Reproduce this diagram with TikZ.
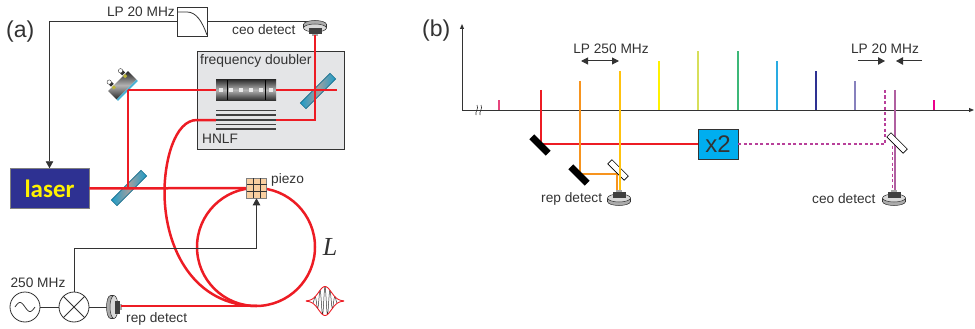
\documentclass[tikz,border=0pt]{standalone}
\usepackage{fontspec}
\setmainfont{Liberation Sans}
\newfontfamily\laserfont{Carlito}
\newfontfamily\lengthfont{Liberation Serif}
\usetikzlibrary{arrows.meta}

\definecolor{inkgray}{HTML}{333333}
\definecolor{beamred}{HTML}{ED1C24}
\definecolor{boxgray}{HTML}{E4E5E7}
\definecolor{laserblue}{HTML}{2E3192}
\definecolor{laseryellow}{HTML}{FFF200}
\definecolor{bsblue}{HTML}{1C9CC8}
\definecolor{piezoorange}{HTML}{F9CFA0}
\definecolor{doublerblue}{HTML}{00AEEF}
\definecolor{beamorange}{HTML}{F7941E}
\definecolor{beamgold}{HTML}{FFC20E}
\definecolor{beampurple}{HTML}{B05FA0}
\definecolor{dashpurple}{HTML}{B8409A}
\definecolor{combpink}{HTML}{E6457D}
\definecolor{combpale}{HTML}{D7DF5A}
\definecolor{combgreen}{HTML}{3CB878}
\definecolor{combcyan}{HTML}{29ABE2}
\definecolor{combviolet}{HTML}{8781BD}
\definecolor{combmagenta}{HTML}{EC008C}

\tikzset{
	label/.style={font=\fontsize{13.7}{16}\selectfont, text=inkgray, inner sep=0pt},
	panel/.style={font=\fontsize{23}{26}\selectfont, text=inkgray, inner sep=0pt},
	wire/.style={draw=inkgray, line width=0.8pt},
	sharp/.style={-{Triangle[length=7pt,width=7.5pt]}},
	beam/.style={draw=beamred, line width=2.5pt},
	thinbeam/.style={line width=1.3pt},
	bs/.style={draw=bsblue!70!black, line width=0.6pt, left color=bsblue, right color=bsblue, middle color=gray!75, minimum width=42pt, minimum height=8pt, inner sep=0pt},
	blackmirror/.style={fill=black, minimum width=23pt, minimum height=7pt, inner sep=0pt},
	whitemirror/.style={draw=black, fill=white, line width=0.7pt, minimum width=23pt, minimum height=6pt, inner sep=0pt},
	mixing/.style={circle, draw=inkgray, line width=0.8pt, fill=white, minimum size=30pt, inner sep=0pt},
	detect/.pic={
		\draw[inkgray, line width=0.5pt, fill=gray!65] (0,3.5) ellipse [x radius=11.5, y radius=4];
		\fill[gray!65] (-11.5,0) rectangle (11.5,3.5);
		\draw[inkgray, line width=0.5pt] (-11.5,0) -- (-11.5,3.5) (11.5,0) -- (11.5,3.5);
		\draw[inkgray, line width=0.5pt, fill=gray!30] (0,0) ellipse [x radius=11.5, y radius=4];
		\fill[black!75] (-6.5,-0.5) -- (-6.5,-6) -- (6.5,-6) -- (6.5,-0.5) -- cycle;
		\fill[gray!70] (-3,-6) rectangle (3,-8);
	},
}

\begin{document}
\begin{tikzpicture}[x=1pt, y=-1pt]
\useasboundingbox (0,0) rectangle (975,329);

% Aufbau (a)
\node[panel, anchor=west] (parta) at (6,32) {(a)};
\node[draw=inkgray, line width=0.8pt, fill=boxgray, minimum width=147pt, minimum height=98pt, inner sep=0pt] (doubler) at (270.5,100) {};
\node[label, anchor=west, font=\fontsize{13.9}{16}\selectfont] (doublertext) at (200,61) {frequency doubler};
\node[label, anchor=west] (hnlftext) at (202,139) {HNLF};

\node[minimum width=60pt, minimum height=20pt, inner sep=0pt, top color=black!80, bottom color=black!80, middle color=black!30] (crystal) at (246,90) {};
\foreach \x in {227, 265}
	\draw[black, line width=0.8pt] (\x,80) -- (\x,100);
\foreach \x in {221, 231, ..., 271}
	\fill[white!92!black] (\x-2,88) rectangle (\x+2,92);

\node[minimum width=60pt, minimum height=21pt, inner sep=0pt] (hnlf) at (246,120) {};
\foreach \y in {110.5, 115, 120, 124.5, 129}
	\draw[black!75, line width=1.6pt] (216,\y) -- (276,\y);

\node[bs, rotate=45] (bsdoubler) at (318,91) {};
\node[bs, rotate=45] (bslaser) at (129,188) {};

\node[fill=laserblue, draw=gray, line width=0.5pt, minimum width=79pt, minimum height=40pt, inner sep=0pt, text=laseryellow, font=\laserfont\bfseries\fontsize{25}{28}\selectfont] (laser) at (49.5,188.5) {laser};

% Spiegel
\begin{scope}[shift={(123,86)}, rotate=45]
	\fill[inkgray] (-9,-8) rectangle (-5,-11);
	\fill[inkgray] (7,-8) rectangle (11,-11);
	\draw[inkgray, fill=white] (-7,-12.5) circle [radius=2.2];
	\draw[inkgray, fill=white] (9,-12.5) circle [radius=2.2];
	\shade[top color=black!85, bottom color=black!85, middle color=black!30] (-14,-7) rectangle (14,5);
	\fill[bsblue!80] (-14,5) rectangle (14,7);
	\fill[yellow!70!black] (-9,-7) rectangle (-6,-4);
	\fill[yellow!70!black] (7,-7) rectangle (10,-4);
\end{scope}
\coordinate (mirrortop) at (128,90);

% Faserschleife
\coordinate (bigstart) at (197,120);
\coordinate (bigleft) at (164.5,192);
\coordinate (fiberjoin) at (257,306);
\draw[beam] (256,247) circle [radius=59];
\draw[beam] (hnlf.west) -- (bigstart) .. controls (175,120) and (164.5,160) .. (bigleft) .. controls (164.5,250) and (195,306) .. (fiberjoin);

% Elektronik
\node[draw=inkgray, line width=0.8pt, fill=white, minimum width=30pt, minimum height=29pt, inner sep=0pt] (lowpass) at (192,21.5) {};
\draw[inkgray, line width=0.8pt] (178,12) -- (187,12) .. controls (196,12) and (202,21) .. (207,35);
\node[label, anchor=east] (lowpasstext) at (175,12) {LP 20 MHz};
\node[label, anchor=west] (ceotext) at (232,30) {ceo detect};
\coordinate (ceowire) at (310,21.5);
\draw[wire] (ceowire) -- (lowpass.east);
\draw[wire, sharp] (lowpass.west) -| (laser.north);
\pic[rotate=180] at (315,28) {detect};
\coordinate (ceotip) at (315,35);

\node[mixing] (osc) at (25,307) {};
\node[mixing] (mixer) at (74,307) {};
\draw[inkgray, line width=0.8pt] (mixer.45) -- (mixer.225) (mixer.135) -- (mixer.315);
\draw[inkgray, line width=0.8pt, domain=-10:10, samples=40, smooth, shift={(osc.center)}] plot ({\x},{4.5*sin(18*\x)});
\node[label] (osctext) at (38,283) {250 MHz};
\draw[wire] (osc) -- (mixer);
\coordinate (repwire) at (108,307);
\draw[wire] (mixer) -- (repwire);
\pic[rotate=-90] at (114,307) {detect};
\coordinate (reptip) at (121,306);
\node[label, anchor=west] (reptext) at (126,319) {rep detect};

\node[draw=gray, line width=0.6pt, fill=piezoorange, minimum size=20pt, inner sep=0pt] (piezo) at (256.5,188) {};
\foreach \d in {-3.4, 3.4} {
	\draw[inkgray, line width=0.5pt] (256.5+\d,178) -- (256.5+\d,198);
	\draw[inkgray, line width=0.5pt] (246.5,188+\d) -- (266.5,188+\d);
}
\node[label, anchor=west] (piezotext) at (271,180) {piezo};
\coordinate (piezobend) at (256.5,248);
\draw[wire, sharp] (mixer.north) |- (piezobend) -- (piezo.south);

% Strahlen
\draw[beam] (laser.east) -- (piezo.west);
\draw[beam] (reptip) -- (fiberjoin);
\draw[beam] (mirrortop) -- (crystal.west);
\draw[beam] (mirrortop) -- (128,188);
\draw[beam] (crystal.east) -- (337,90);
\draw[beam] (hnlf.east) -| (ceotip);

\node[font=\lengthfont\itshape\fontsize{26}{28}\selectfont, text=inkgray, inner sep=0pt] (looplength) at (330,247) {L};

% Puls
\begin{scope}[shift={(325,301)}]
	\draw[black!80, line width=0.5pt, domain=-12:12, samples=160] plot ({\x},{-14.5*exp(-(\x/9)*(\x/9))*cos(72*\x)});
	\draw[beamred, line width=0.9pt, domain=-19:19, samples=60, smooth] plot ({\x},{-14.5*exp(-(\x/9)*(\x/9))});
	\draw[beamred, line width=0.9pt, domain=-19:19, samples=60, smooth] plot ({\x},{14.5*exp(-(\x/9)*(\x/9))});
\end{scope}

% Spektrum (b)
\node[panel, anchor=west] (partb) at (422,31) {(b)};
\coordinate (origin) at (462,110);
\coordinate (yend) at (462,24);
\coordinate (xend) at (974,110);
\foreach \x/\t/\c in {499/100/combpink, 541/90/beamred, 580/81/beamorange, 620/71/beamgold, 659/61/laseryellow, 698/51/combpale, 738/51/combgreen, 777/61/combcyan, 816/71/laserblue, 855/81/combviolet, 895/90/beampurple, 934/100/combmagenta}
	\draw[color=\c, thinbeam] (\x,110) -- (\x,\t);
\draw[inkgray, line width=1pt, -{Triangle[length=5pt,width=4pt]}] (origin) -- (yend);
\draw[inkgray, line width=1pt, -{Triangle[length=5pt,width=4pt]}] (origin) -- (xend);
\draw[inkgray, line width=0.6pt] (476,115) .. controls (475,111) and (479,109) .. (477,105) (480,115) .. controls (479,111) and (483,109) .. (481,105);

\node[label] (lpwide) at (611,49) {LP 250 MHz};
\coordinate (wideleft) at (581,61);
\coordinate (wideright) at (619,61);
\draw[inkgray, line width=1pt, {Triangle[length=7pt,width=7pt]}-{Triangle[length=7pt,width=7pt]}] (wideleft) -- (wideright);
\node[label] (lpnarrow) at (885,49) {LP 20 MHz};
\coordinate (narrowa) at (858,61);
\coordinate (narrowb) at (885,61);
\coordinate (narrowc) at (922,61);
\coordinate (narrowd) at (896,61);
\draw[inkgray, line width=1pt, sharp] (narrowa) -- (narrowb);
\draw[inkgray, line width=1pt, sharp] (narrowc) -- (narrowd);

\node[fill=doublerblue, draw=inkgray, line width=0.8pt, minimum width=40pt, minimum height=30pt, inner sep=0pt, text=inkgray, font=\fontsize{24}{26}\selectfont] (xtwo) at (718,144) {x2};

\coordinate (redtop) at (541,90);
\coordinate (redcorner) at (541,144);
\coordinate (orangetop) at (580,81);
\coordinate (orangecorner) at (580,174);
\coordinate (orangeturn) at (617,174);
\coordinate (orangeend) at (617,190);
\coordinate (goldtop) at (620,71);
\coordinate (goldend) at (620,190);
\coordinate (dashtop) at (885,90);
\coordinate (dashcorner) at (885,144);
\coordinate (dashstart) at (892.5,146);
\coordinate (dashend) at (892.5,190);
\coordinate (solidtop) at (895,90);
\coordinate (solidmid) at (895,146);
\coordinate (solidend) at (895,190);

\draw[beamred, thinbeam] (redtop) -- (redcorner) -- (xtwo.west);
\draw[beamorange, thinbeam] (orangetop) -- (orangecorner) -- (orangeturn) -- (orangeend);
\draw[dashpurple, thinbeam, dash pattern=on 3pt off 2.5pt] (dashtop) -- (dashcorner) -- (xtwo.east);
\draw[beampurple, line width=1.5pt] (solidtop) -- (solidend);
\draw[dashpurple, thinbeam, dash pattern=on 3pt off 2.5pt] (dashstart) -- (dashend);

\node[blackmirror, rotate=-45] (mirrorred) at (540,145) {};
\node[blackmirror, rotate=-45] (mirrororange) at (579,175) {};
\node[whitemirror, rotate=-45] (bsrep) at (618,170) {};
\node[whitemirror, rotate=-45] (bsceo) at (897,143) {};
\draw[beamgold, thinbeam] (goldtop) -- (goldend);
\draw[beampurple, line width=1.5pt] (solidmid) -- (solidend);

\pic at (619,198) {detect};
\pic at (894,198) {detect};
\node[label, anchor=west] (repdetecttext) at (541,199) {rep detect};
\node[label, anchor=west] (ceodetecttext) at (812,199) {ceo detect};
\end{tikzpicture}
\end{document}
